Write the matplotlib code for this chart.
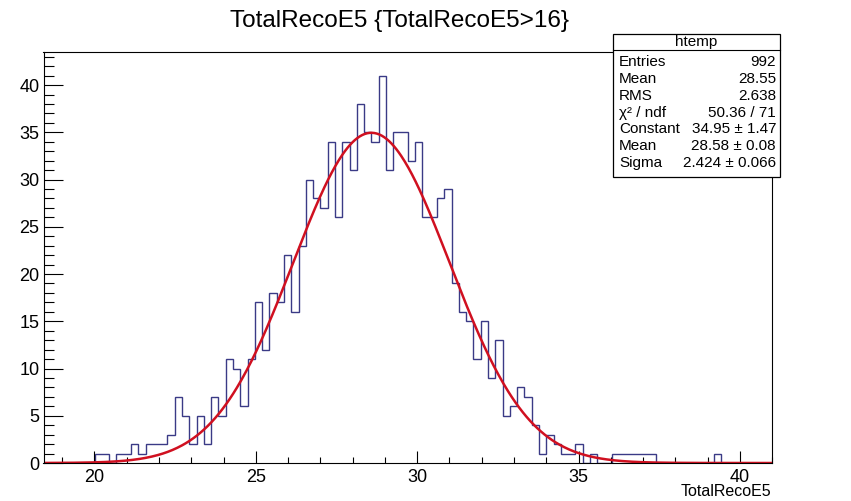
import numpy as np
import matplotlib.pyplot as plt
from matplotlib.patches import Rectangle
from matplotlib.lines import Line2D
from matplotlib.ticker import MultipleLocator

plt.rcParams['font.family'] = ['Liberation Sans', 'DejaVu Sans']

# histogram range (100 bins, as drawn by TTree::Draw)
x_min = 18.42
x_max = 41.0
counts = [0, 0, 0, 0, 0, 0, 0,
          1, 1, 0, 1, 1, 2, 1, 2, 2, 2, 3,
          7, 5, 2, 5, 2, 7, 5, 11, 10, 6, 11,
          17, 12, 18, 17, 22, 16, 23, 30, 28, 27,
          34, 26, 34, 31, 38, 35, 34, 41, 31, 35, 35, 32, 34,
          26, 26, 28, 29, 19, 16, 15, 11, 15, 9, 13,
          5, 6, 8, 7, 4, 1, 3, 2, 1, 1, 2,
          0, 1, 0, 0,
          1, 1, 1, 1, 1, 1,
          0, 0, 0, 0, 0, 0, 0, 0,
          1,
          0, 0, 0, 0, 0, 0, 0]

# gaussian fit result
fit_const = 34.95
fit_mean = 28.58
fit_sigma = 2.424

stat_labels = ["Entries", "Mean", "RMS", "χ² / ndf", "Constant", "Mean", "Sigma"]
stat_values = ["992", "28.55", "2.638", "50.36 / 71", "34.95 ± 1.47", "28.58 ± 0.08", "2.424 ± 0.066"]

fig = plt.figure(figsize=(8.51, 5.01), dpi=100)
ax = fig.add_axes([43.5 / 851, 1 - 463 / 501, (772.2 - 43.5) / 851, (463 - 52) / 501])

edges = np.linspace(x_min, x_max, len(counts) + 1)
ax.stairs(counts, edges, color='#3a3a86', lw=1.0, baseline=0)

xf = np.linspace(x_min, x_max, 600)
yf = fit_const * np.exp(-0.5 * ((xf - fit_mean) / fit_sigma) ** 2)
ax.plot(xf, yf, color='#d01020', lw=1.8)

ax.set_xlim(x_min, x_max)
ax.set_ylim(0, 43.5)
ax.xaxis.set_major_locator(MultipleLocator(5))
ax.xaxis.set_minor_locator(MultipleLocator(1))
ax.yaxis.set_major_locator(MultipleLocator(5))
ax.yaxis.set_minor_locator(MultipleLocator(1))
ax.tick_params(axis='x', which='major', direction='in', length=9, width=0.8, labelsize=13, pad=4, top=False)
ax.tick_params(axis='x', which='minor', direction='in', length=4.5, width=0.8, top=False)
ax.tick_params(axis='y', which='major', direction='in', length=14, width=0.8, labelsize=13, pad=3, right=False)
ax.tick_params(axis='y', which='minor', direction='in', length=7, width=0.8, right=False)
for s in ax.spines.values():
    s.set_linewidth(0.8)

fig.text(0.47, 1 - 21 / 501, "TotalRecoE5 {TotalRecoE5>16}", ha='center', va='center', fontsize=17.5)
fig.text(771 / 851, 1 - 492 / 501, "TotalRecoE5", ha='right', va='center', fontsize=11.5)

# stats box
bx0, bx1 = 613 / 851, 780 / 851
by_top, by_bot = 1 - 34 / 501, 1 - 177 / 501
fig.patches.append(Rectangle((bx0, by_bot), bx1 - bx0, by_top - by_bot, transform=fig.transFigure,
                             facecolor='white', edgecolor='black', lw=0.9, zorder=5))
fig.lines.append(Line2D([bx0, bx1], [1 - 50 / 501] * 2, transform=fig.transFigure, color='black', lw=0.8, zorder=6))
fig.text((bx0 + bx1) / 2, 1 - 42 / 501, "htemp", ha='center', va='center', fontsize=11, zorder=7)
for i, (lab, val) in enumerate(zip(stat_labels, stat_values)):
    y = 1 - (62.5 + i * 16.7) / 501
    fig.text(619 / 851, y, lab, ha='left', va='center', fontsize=11, zorder=7)
    fig.text(776 / 851, y, val, ha='right', va='center', fontsize=11, zorder=7)

fig.savefig("out.png", dpi=100)
